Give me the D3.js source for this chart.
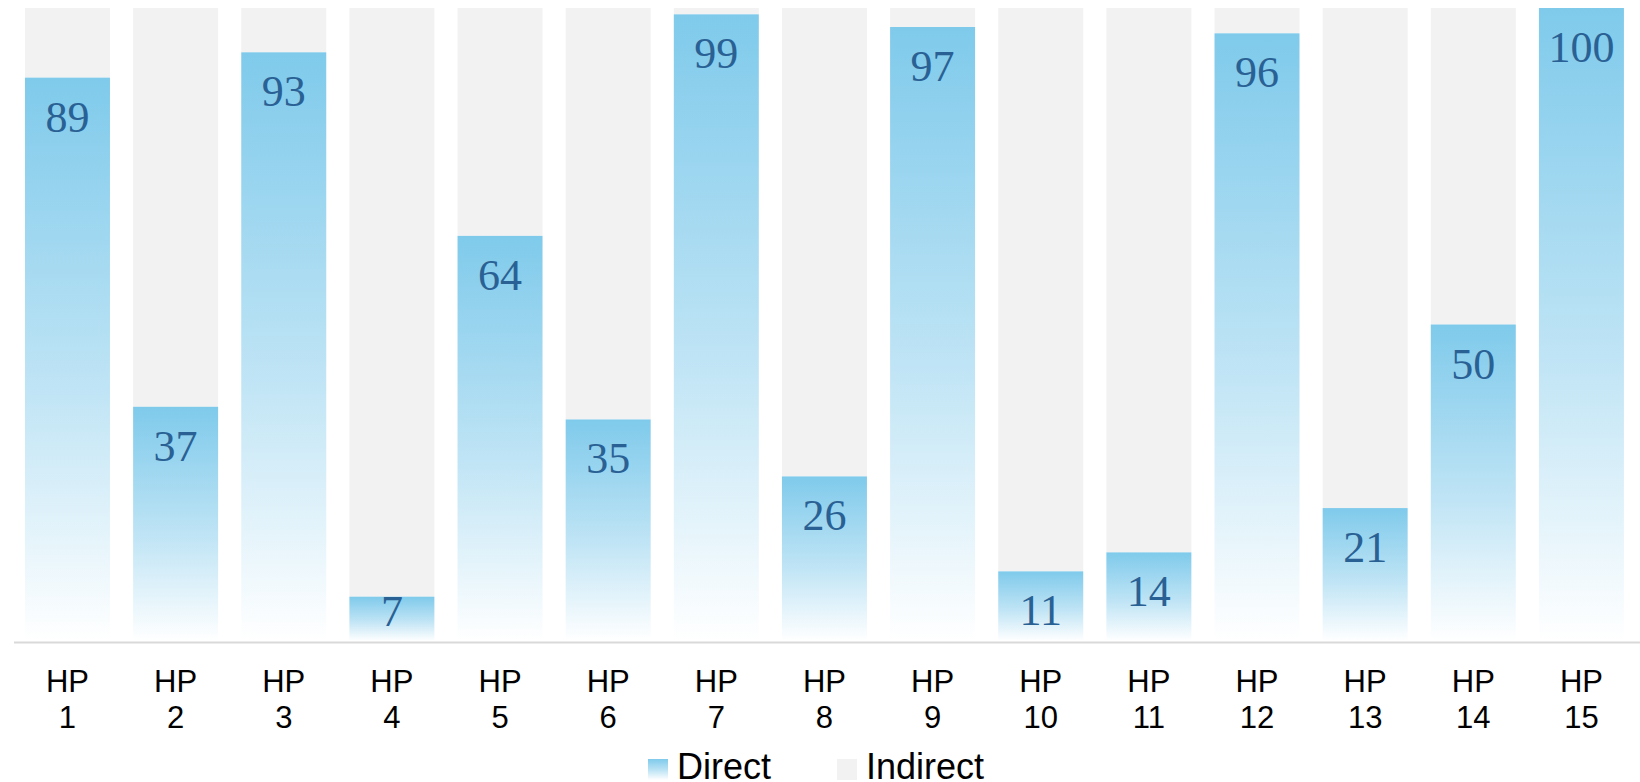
<!DOCTYPE html>
<html>
<head>
<meta charset="utf-8">
<script src="https://cdn.jsdelivr.net/npm/d3@7"></script>
<style>
    body { margin: 0; background: #fff; }
    svg { display: block; }
</style>
</head>
<body>
<div id="chart"></div>
<script>
var width = 1640;
var height = 782;

var categories = ['1', '2', '3', '4', '5', '6', '7', '8', '9', '10', '11', '12', '13', '14', '15'];
var directValues = [89, 37, 93, 7, 64, 35, 99, 26, 97, 11, 14, 96, 21, 50, 100];
var indirectValues = [11, 63, 7, 93, 36, 65, 1, 74, 3, 89, 86, 4, 79, 50, 0];
var legendLabels = ['Direct', 'Indirect'];

var svg = d3.select('#chart')
    .append('svg')
    .attr('width', width)
    .attr('height', height);

var defs = svg.append('defs');
var grad = defs.append('linearGradient')
    .attr('id', 'directGrad')
    .attr('x1', 0).attr('y1', 0)
    .attr('x2', 0).attr('y2', 1);
grad.append('stop').attr('offset', '0%').attr('stop-color', '#7fcaeb');
grad.append('stop').attr('offset', '55%').attr('stop-color', '#bfe4f5');
grad.append('stop').attr('offset', '100%').attr('stop-color', '#ffffff');

var x = d3.scaleBand()
    .domain(categories)
    .range([13.4, 1635.5])
    .paddingInner(0.214)
    .paddingOuter(0.107);

var y = d3.scaleLinear()
    .domain([0, 100])
    .range([641, 8]);

var rows = categories.map(function (c, i) {
    return { cat: c, direct: directValues[i], indirect: indirectValues[i] };
});

// stacked: direct at bottom, indirect on top
var stack = d3.stack().keys(['direct', 'indirect'])(rows);

svg.append('g')
    .selectAll('rect')
    .data(stack[1])
    .enter().append('rect')
    .attr('x', function (d) { return x(d.data.cat); })
    .attr('width', x.bandwidth())
    .attr('y', function (d) { return y(d[1]); })
    .attr('height', function (d) { return y(d[0]) - y(d[1]); })
    .attr('fill', '#f2f2f2');

svg.append('g')
    .selectAll('rect')
    .data(stack[0])
    .enter().append('rect')
    .attr('x', function (d) { return x(d.data.cat); })
    .attr('width', x.bandwidth())
    .attr('y', function (d) { return y(d[1]); })
    .attr('height', function (d) { return y(d[0]) - y(d[1]); })
    .attr('fill', 'url(#directGrad)');

// value labels inside the top of each direct bar
svg.append('g')
    .selectAll('text')
    .data(stack[0])
    .enter().append('text')
    .attr('x', function (d) { return x(d.data.cat) + x.bandwidth() / 2; })
    .attr('y', function (d) { return Math.min(y(d[1]) + 54, 626); })
    .attr('text-anchor', 'middle')
    .attr('font-family', '"Liberation Serif", serif')
    .attr('font-size', 44)
    .attr('fill', '#2a6194')
    .text(function (d) { return d.data.direct; });

// x axis
var xAxis = svg.append('g')
    .attr('transform', 'translate(0,642.5)')
    .call(d3.axisBottom(x).tickSize(0).tickFormat(''));
xAxis.select('.domain')
    .attr('d', 'M14,0H1640')
    .attr('stroke', '#d9d9d9')
    .attr('stroke-width', 2);

var ticks = xAxis.selectAll('.tick');
ticks.select('text').remove();
ticks.append('text')
    .attr('y', 49.5)
    .attr('text-anchor', 'middle')
    .attr('font-family', '"Liberation Sans", Arial, sans-serif')
    .attr('font-size', 31)
    .attr('fill', '#000')
    .text('HP');
ticks.append('text')
    .attr('y', 85.5)
    .attr('text-anchor', 'middle')
    .attr('font-family', '"Liberation Sans", Arial, sans-serif')
    .attr('font-size', 31)
    .attr('fill', '#000')
    .text(function (d) { return d; });

// legend
var legendX = [648, 837];
var legendFill = ['url(#directGrad)', '#f2f2f2'];
var legend = svg.append('g')
    .selectAll('g')
    .data(legendLabels)
    .enter().append('g')
    .attr('transform', function (d, i) { return 'translate(' + legendX[i] + ',0)'; });
legend.append('rect')
    .attr('y', 759)
    .attr('width', 20)
    .attr('height', 21)
    .attr('fill', function (d, i) { return legendFill[i]; });
legend.append('text')
    .attr('x', 29)
    .attr('y', 779)
    .attr('font-family', '"Liberation Sans", Arial, sans-serif')
    .attr('font-size', 36)
    .attr('fill', '#000')
    .text(function (d) { return d; });
</script>
</body>
</html>
